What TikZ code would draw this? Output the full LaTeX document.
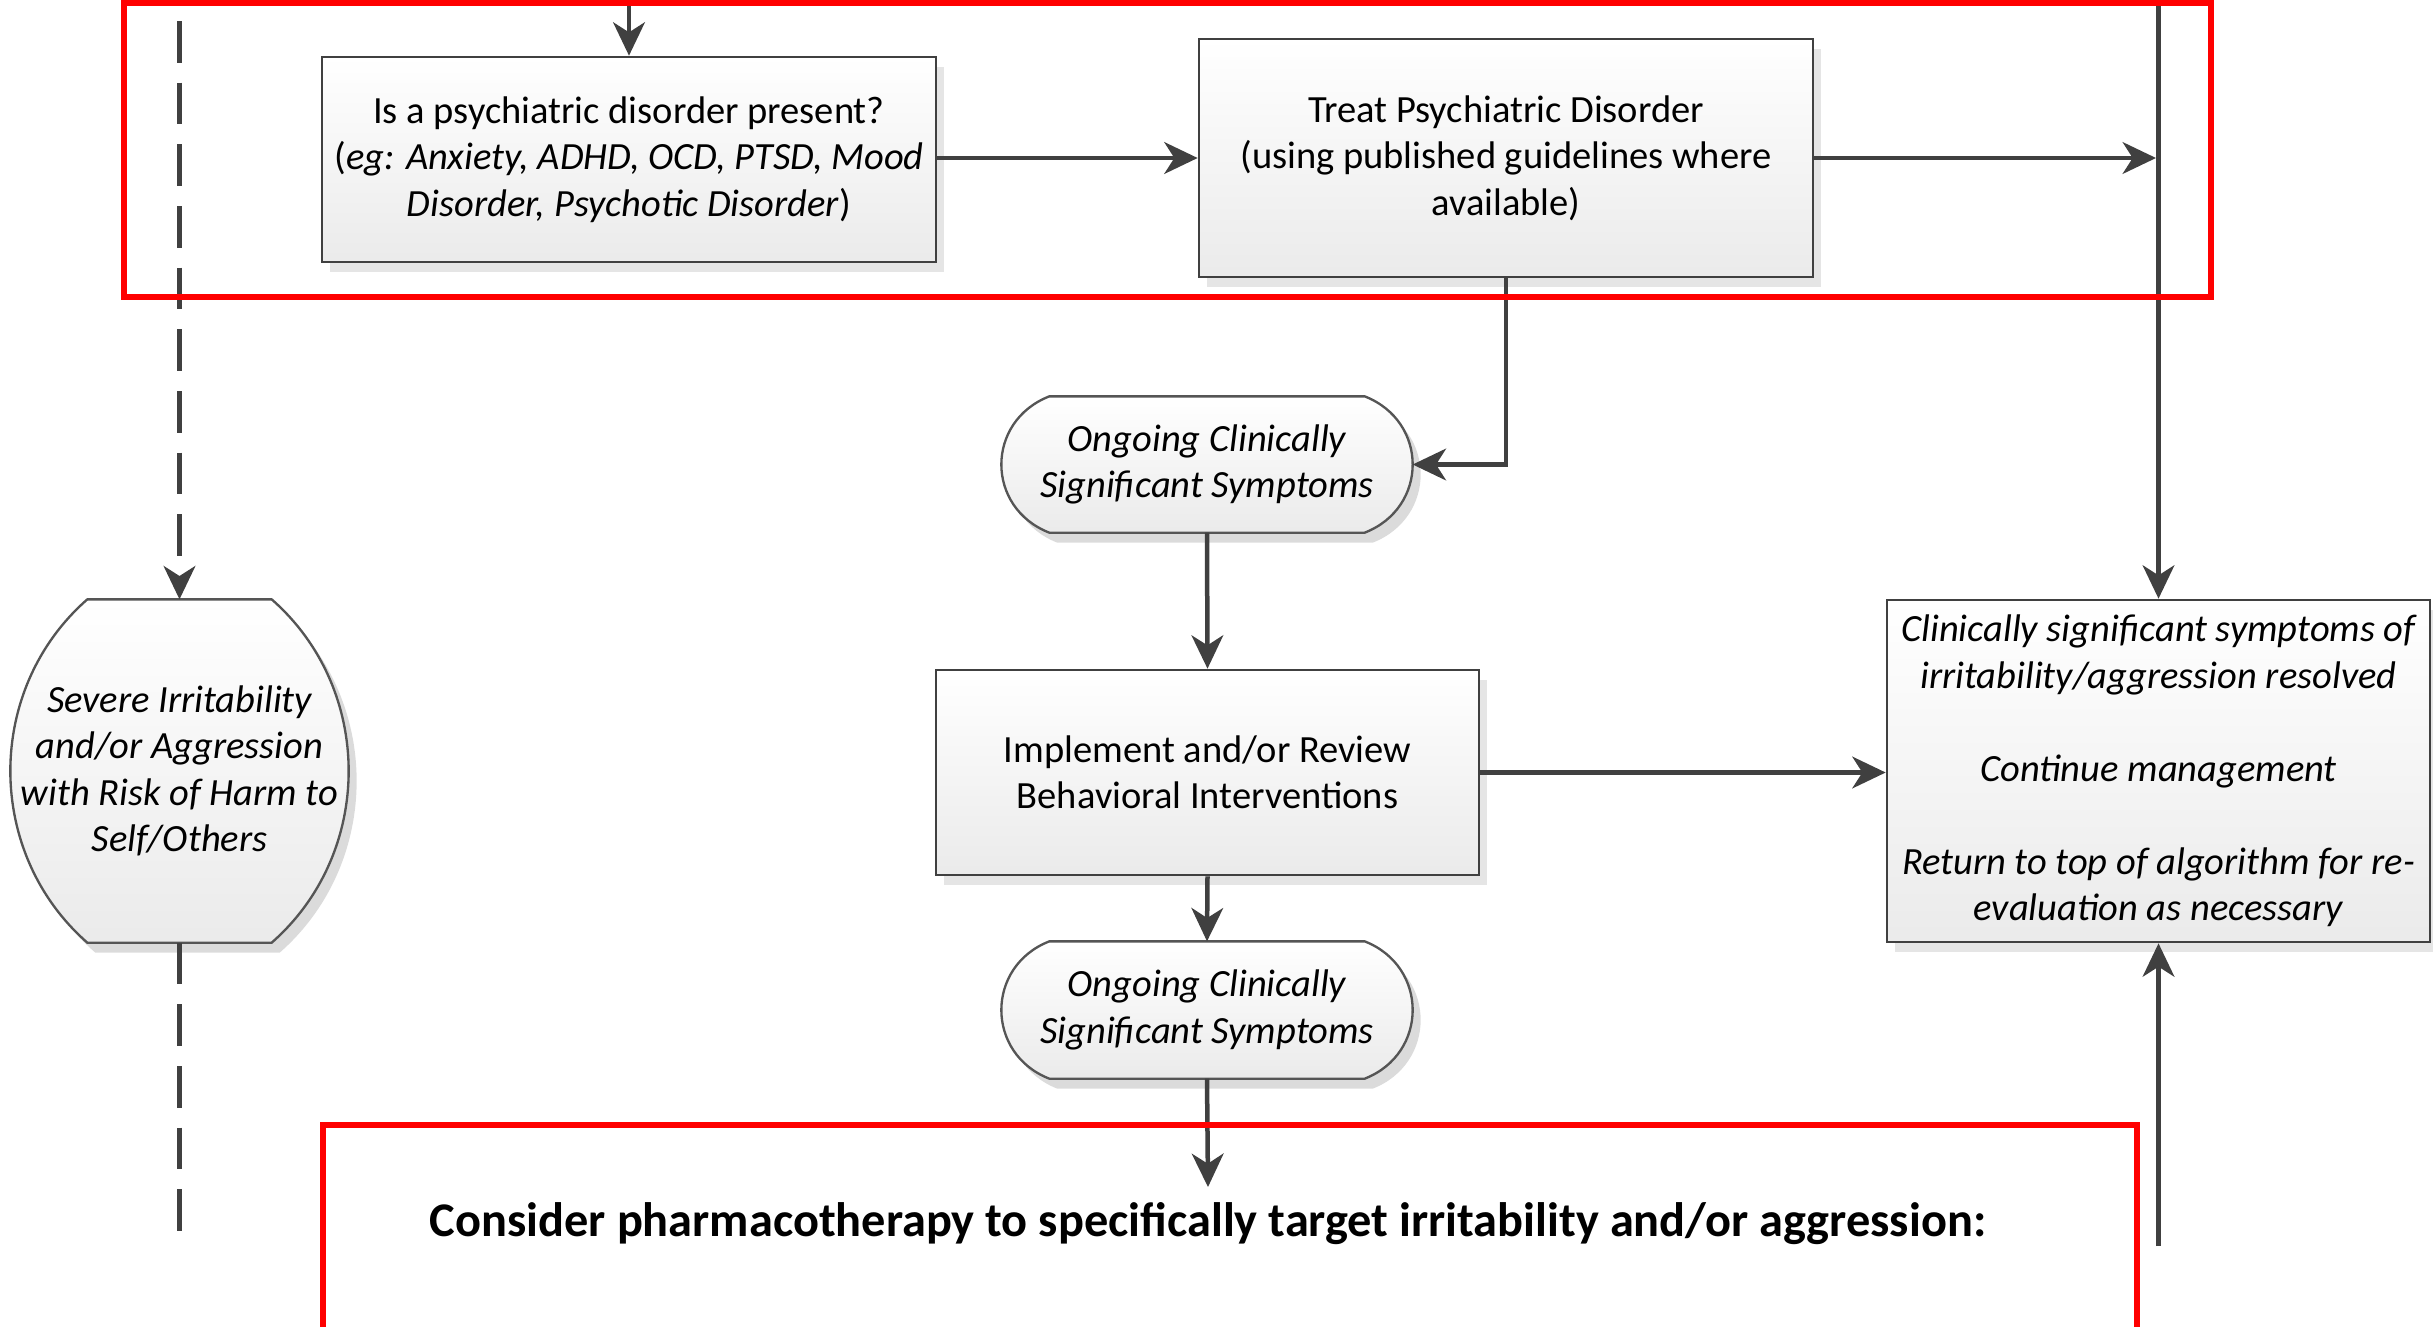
\documentclass[tikz,border=0pt]{standalone}
\usepackage{fontspec}
\setmainfont{Carlito}
\usetikzlibrary{arrows.meta,shadows,calc,backgrounds}
\definecolor{ln}{HTML}{404040}
\definecolor{tb}{HTML}{555555}
\definecolor{rd}{HTML}{FF0000}
\newcommand\fsN{\fontsize{11.55pt}{13.95pt}\selectfont}
\newcommand\fsB{\fontsize{14.5pt}{17pt}\selectfont\bfseries}
\newcommand\drawbarrel[3]{%
  \path[barrelsty] ($(#1.north west)+(#2,0)$) -- ($(#1.north east)+(-#2,0)$)
    .. controls +({4*#2/3},#3) and +({4*#2/3},-#3) .. ($(#1.south east)+(-#2,0)$)
    -- ($(#1.south west)+(#2,0)$)
    .. controls +({-4*#2/3},-#3) and +({-4*#2/3},#3) .. ($(#1.north west)+(#2,0)$) -- cycle;}
\begin{document}
\begin{tikzpicture}[x=0.3pt,y=-0.3pt,
  conn/.style={draw=ln, line width=1.35pt, -{Stealth[length=10pt,width=9.5pt,inset=3pt]}},
  plainline/.style={draw=ln, line width=1.35pt},
  dashconn/.style={conn, dash pattern=on 12.5pt off 6pt},
  dashline/.style={plainline, dash pattern=on 12.5pt off 6pt},
  box/.style={rectangle, draw=ln, line width=0.8pt, top color=white, bottom color=black!8,
    drop shadow={shadow xshift=2.4pt, shadow yshift=-3pt, fill=black!10, opacity=1},
    align=center, inner sep=0pt, font=\fsN},
  termtext/.style={rectangle, draw=none, align=center, inner sep=0pt, font=\fsN\itshape},
  barrelsty/.style={draw=tb, line width=0.7pt, top color=white, bottom color=black!8,
    drop shadow={shadow xshift=2.4pt, shadow yshift=-3pt, fill=black!14, opacity=1}},
  redbox/.style={draw=rd, line width=1.8pt}
]
\useasboundingbox (0,0) rectangle (2433,1326);
\clip (0,0) rectangle (2433,1326);

% nodes
\node[box, minimum width=184.2pt, minimum height=61.5pt] (b1) at (629,159.5)
  {Is a psychiatric disorder present?\\(\textit{eg: Anxiety, ADHD, OCD, PTSD, Mood}\\\textit{Disorder, Psychotic Disorder})};
\node[box, minimum width=184.2pt, minimum height=71.4pt] (b2) at (1506,158)
  {Treat Psychiatric Disorder\\(using published guidelines where\\available)};
\node[termtext, minimum width=123pt, minimum height=40.5pt] (t1) at (1207,464.5)
  {Ongoing Clinically\\Significant Symptoms};
\node[box, minimum width=162.9pt, minimum height=61.5pt] (b3) at (1207.5,772.5)
  {Implement and/or Review\\Behavioral Interventions};
\node[termtext, minimum width=123pt, minimum height=40.8pt] (t2) at (1207,1010)
  {Ongoing Clinically\\Significant Symptoms};
\node[box, font=\fsN\itshape, minimum width=162.9pt, minimum height=102.6pt] (b4) at (2158.5,771)
  {Clinically significant symptoms of\\irritability/aggression resolved\\[13.95pt]Continue management\\[13.95pt]Return to top of algorithm for re-\\evaluation as necessary};
\node[termtext, minimum width=101.1pt, minimum height=102.6pt] (sev) at (179.5,771)
  {Severe Irritability\\and/or Aggression\\with Risk of Harm to\\Self/Others};
\node[anchor=north, inner xsep=0pt, inner ysep=4.5pt, font=\fsB] (cons) at (1208,1187)
  {Consider pharmacotherapy to specifically target irritability and/or aggression:};

\begin{scope}[on background layer]
  \drawbarrel{t1}{48}{25}
  \drawbarrel{t2}{48}{25}
  \drawbarrel{sev}{77}{90}
\end{scope}

% free ends
\coordinate (intop) at (629,-5);
\coordinate (rtop) at (2158.5,-5);
\coordinate (rmid) at (2156,158);
\coordinate (rbot) at (2158.5,1246);
\coordinate (dtop) at (179.5,21);
\coordinate (dbot) at (179.5,1246);

% connectors
\draw[conn] (intop) -- (b1.north);
\draw[conn] (b1.east |- b2.west) -- (b2.west);
\draw[conn] (b2.east) -- (rmid);
\draw[conn] (b2.south) |- (t1.east);
\draw[conn] (t1.south) -- (b3.north);
\draw[conn] (b3.south) -- (t2.north);
\draw[conn] (t2.south) -- (cons.north);
\draw[conn] (b3.east) -- (b3.east -| b4.west);
\draw[conn] (rtop) -- (b4.north);
\draw[conn] (rbot) -- (b4.south);
\draw[dashconn] (dtop) -- (sev.north);
\draw[dashline] (sev.south) -- (dbot);

% red frames
\draw[redbox] (124,3) rectangle (2211,297);
\draw[redbox] (323,1125) rectangle (2137,1400);
\end{tikzpicture}
\end{document}
